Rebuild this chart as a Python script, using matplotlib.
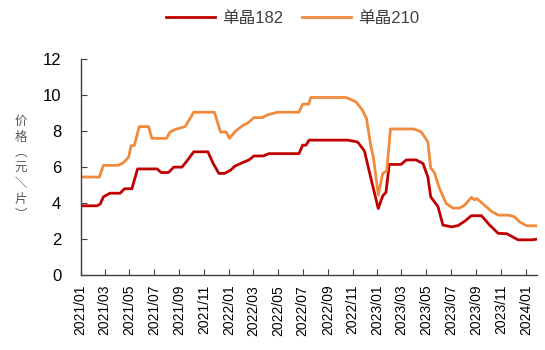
import pandas as pd
import matplotlib
matplotlib.use('Agg')
import matplotlib.pyplot as plt

plt.rcParams['font.family'] = ['Liberation Sans', 'Noto Sans CJK SC', 'DejaVu Sans']

# 单晶182 硅片价格 (元/片)
dates_182 = ['2021-01-01', '2021-02-10', '2021-02-18', '2021-02-26', '2021-03-14',
             '2021-04-08', '2021-04-19', '2021-05-07', '2021-05-21', '2021-07-08',
             '2021-07-18', '2021-08-05', '2021-08-18', '2021-09-07', '2021-09-18',
             '2021-10-06', '2021-11-10', '2021-11-23', '2021-12-07', '2021-12-21',
             '2022-01-05', '2022-01-15', '2022-02-03', '2022-02-19', '2022-03-03',
             '2022-03-26', '2022-04-09', '2022-06-22', '2022-07-01', '2022-07-09',
             '2022-07-17', '2022-10-20', '2022-11-13', '2022-11-30', '2022-12-12',
             '2022-12-20', '2023-01-03', '2023-01-14', '2023-01-22', '2023-01-30',
             '2023-02-28', '2023-03-13', '2023-04-06', '2023-04-23', '2023-05-05',
             '2023-05-12', '2023-05-30', '2023-06-11', '2023-07-02', '2023-07-18',
             '2023-08-04', '2023-08-20', '2023-09-14', '2023-10-04', '2023-10-25',
             '2023-11-15', '2023-12-13', '2024-01-17', '2024-01-28']
price_182 = [3.85, 3.85, 3.95, 4.35, 4.55,
             4.55, 4.80, 4.80, 5.90, 5.90,
             5.70, 5.70, 6.00, 6.00, 6.30,
             6.85, 6.85, 6.20, 5.65, 5.65,
             5.83, 6.05, 6.25, 6.40, 6.62,
             6.62, 6.75, 6.75, 7.22, 7.22,
             7.50, 7.50, 7.40, 6.90, 5.75,
             5.00, 3.70, 4.40, 4.60, 6.15,
             6.15, 6.40, 6.40, 6.20, 5.45,
             4.35, 3.80, 2.78, 2.68, 2.75,
             3.00, 3.30, 3.30, 2.78, 2.32,
             2.30, 1.96, 1.96, 2.00]

# 单晶210 硅片价格 (元/片)
dates_210 = ['2021-01-01', '2021-02-16', '2021-02-26', '2021-04-04', '2021-04-16',
             '2021-04-29', '2021-05-05', '2021-05-13', '2021-05-25', '2021-06-17',
             '2021-06-25', '2021-07-31', '2021-08-09', '2021-08-22', '2021-09-15',
             '2021-10-06', '2021-11-26', '2021-12-11', '2021-12-25', '2022-01-02',
             '2022-01-17', '2022-02-03', '2022-02-19', '2022-03-03', '2022-03-24',
             '2022-04-05', '2022-04-30', '2022-06-22', '2022-07-01', '2022-07-16',
             '2022-07-21', '2022-10-16', '2022-11-09', '2022-11-25', '2022-12-05',
             '2022-12-16', '2022-12-22', '2023-01-03', '2023-01-14', '2023-01-24',
             '2023-02-02', '2023-04-01', '2023-04-19', '2023-05-05', '2023-05-12',
             '2023-05-21', '2023-06-02', '2023-06-19', '2023-07-06', '2023-07-22',
             '2023-08-04', '2023-08-20', '2023-08-28', '2023-09-02', '2023-09-18',
             '2023-10-08', '2023-10-25', '2023-11-20', '2023-12-04', '2023-12-17',
             '2024-01-03', '2024-01-28']
price_210 = [5.45, 5.45, 6.10, 6.10, 6.25,
             6.55, 7.20, 7.20, 8.25, 8.25,
             7.60, 7.60, 7.95, 8.10, 8.25,
             9.05, 9.05, 7.95, 7.95, 7.60,
             8.00, 8.30, 8.50, 8.75, 8.75,
             8.90, 9.05, 9.05, 9.50, 9.50,
             9.87, 9.87, 9.63, 9.17, 8.70,
             7.13, 6.55, 4.45, 5.65, 5.80,
             8.12, 8.12, 7.95, 7.40, 5.95,
             5.70, 4.85, 3.98, 3.72, 3.72,
             3.90, 4.32, 4.18, 4.26, 3.95,
             3.55, 3.33, 3.33, 3.24, 2.95,
             2.74, 2.74]

ticks = pd.date_range('2021-01-01', '2024-01-01', freq='2MS')
tick_labels = [d.strftime('%Y/%m') for d in ticks]

fig, ax = plt.subplots(figsize=(5.45, 3.5), dpi=100)
fig.subplots_adjust(left=0.148, right=0.985, bottom=0.214, top=0.831)

ax.plot(pd.to_datetime(dates_182), price_182, color='#C00000', lw=2, label='单晶182')
ax.plot(pd.to_datetime(dates_210), price_210, color='#F08A3C', lw=2, label='单晶210')

ax.set_xlim(pd.Timestamp('2021-01-01'), pd.Timestamp('2024-01-28'))
ax.set_ylim(0, 12)
ax.set_yticks(range(0, 13, 2))
ax.set_xticks(ticks)
ax.set_xticklabels(tick_labels, rotation=90, fontsize=10)

for side in ['top', 'right']:
    ax.spines[side].set_visible(False)
for side in ['left', 'bottom']:
    ax.spines[side].set_color('#404040')
    ax.spines[side].set_linewidth(1)
ax.tick_params(axis='both', direction='in', length=4, color='#404040')
ax.tick_params(axis='y', labelsize=12, pad=14)
ax.tick_params(axis='x', pad=7)

# 纵向排列的轴标题
fig.text(0.038, 0.52, '价\n格\n︵\n元\n＼\n片\n︶', ha='center', va='center',
         fontsize=9, color='#595959', linespacing=1.25, family='Noto Sans CJK SC')

leg = fig.legend(loc='center', bbox_to_anchor=(0.537, 0.948), ncol=2, frameon=False,
                 fontsize=12, handlelength=2.95, columnspacing=1.15, handletextpad=0.4)
for t in leg.get_texts():
    t.set_color('#404040')

fig.savefig('out.png', dpi=100)
